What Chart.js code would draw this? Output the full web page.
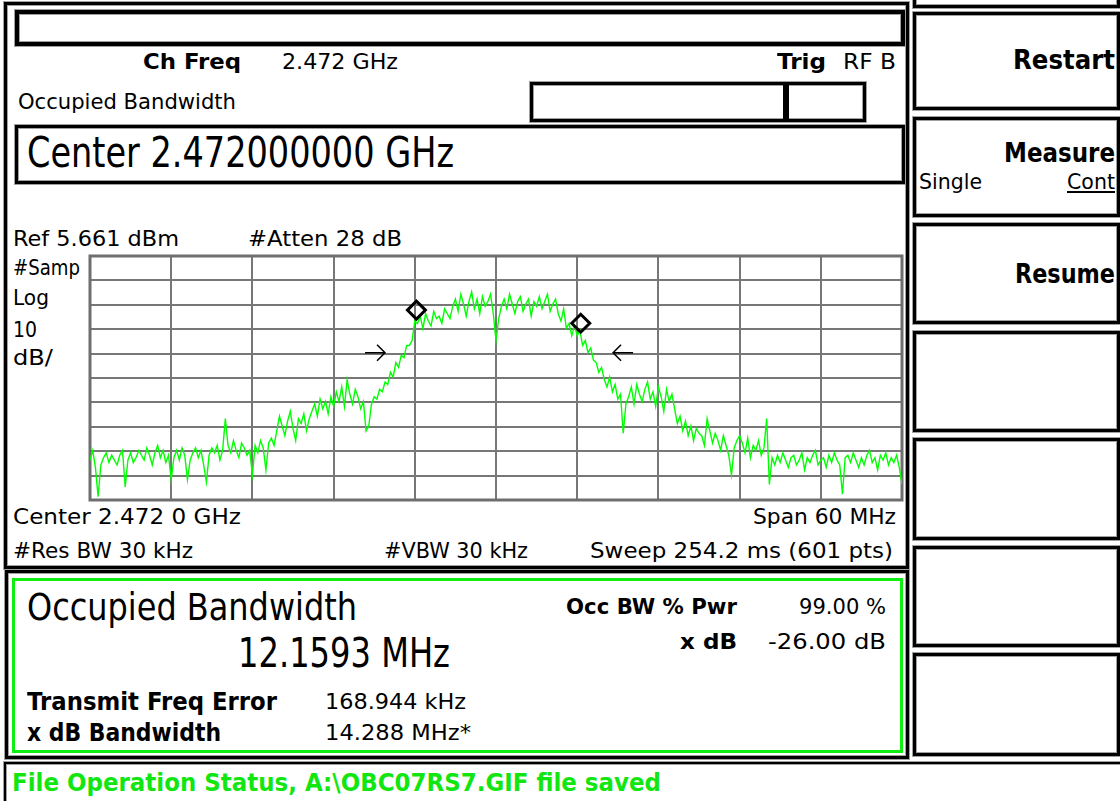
<!DOCTYPE html>
<html>
<head>
<meta charset="utf-8">
<script src="https://cdn.jsdelivr.net/npm/chart.js@4.4.1/dist/chart.umd.min.js"></script>
<style>
html, body { margin: 0; padding: 0; background: #fff; }
#screen { position: relative; width: 1120px; height: 801px; overflow: hidden; background: #fff; font-family: 'DejaVu Sans', sans-serif; color: #000; }
.box { position: absolute; box-sizing: border-box; border: 3px solid #000; box-shadow: 0 0 0 1px #a0a0a0, inset 0 0 0 1px #a0a0a0; }
.t { position: absolute; white-space: nowrap; line-height: 1; transform-origin: 0 0; }
.b { font-weight: bold; }
.g { color: #11e611; }
.u { text-decoration: underline; }
#plot { position: absolute; left: 84px; top: 250px; width: 824px; height: 256px; }
</style>
</head>
<body>
<div id="screen">
  <!-- frames -->
  <div class="box" style="left:4px;top:2px;width:905px;height:567px"></div>
  <div class="box" style="left:15px;top:10px;width:890px;height:36px;border-width:4px"></div>
  <div class="box" style="left:530px;top:82px;width:336px;height:40px"></div>
  <div style="position:absolute;left:783px;top:82px;width:6px;height:40px;background:#000"></div>
  <div class="box" style="left:15px;top:125px;width:890px;height:59px"></div>
  <div class="box" style="left:5px;top:570px;width:904px;height:189px"></div>
  <div class="box" style="left:12px;top:578px;width:891px;height:175px;border-color:#11ee11;box-shadow:none"></div>
  <div class="box" style="left:4px;top:762px;width:1130px;height:60px;border-width:2px"></div>

  <!-- softkeys -->
  <div class="box" style="left:913px;top:-12px;width:207px;height:20px"></div>
  <div class="box" style="left:913px;top:12px;width:207px;height:98px"></div>
  <div class="box" style="left:913px;top:117px;width:207px;height:100px"></div>
  <div class="box" style="left:913px;top:223px;width:207px;height:101px"></div>
  <div class="box" style="left:913px;top:331px;width:207px;height:101px"></div>
  <div class="box" style="left:913px;top:438px;width:207px;height:102px"></div>
  <div class="box" style="left:913px;top:546px;width:207px;height:101px"></div>
  <div class="box" style="left:913px;top:653px;width:207px;height:103px"></div>

  <!-- texts: x, cap-centre y, width, font size -->
  <div class="t b" data-p="143,62,98,22">Ch Freq</div>
  <div class="t" data-p="282,62,116,22">2.472 GHz</div>
  <div class="t b" data-p="777,62,49,22">Trig</div>
  <div class="t" data-p="843,62,53,22">RF B</div>
  <div class="t" data-p="18,102,218,22">Occupied Bandwidth</div>
  <div class="t" data-p="27,152,427,42">Center 2.472000000 GHz</div>
  <div class="t" data-p="13,239,166,22">Ref 5.661 dBm</div>
  <div class="t" data-p="248,239,154,22">#Atten 28 dB</div>
  <div class="t" data-p="13,268,67,22">#Samp</div>
  <div class="t" data-p="13,298,36,22">Log</div>
  <div class="t" data-p="13,330,24,22">10</div>
  <div class="t" data-p="13,358,40,22">dB/</div>
  <div class="t" data-p="13,517,228,22">Center 2.472 0 GHz</div>
  <div class="t" data-p="753,517,143,22">Span 60 MHz</div>
  <div class="t" data-p="13,551,180,22">#Res BW 30 kHz</div>
  <div class="t" data-p="384,551,144,22">#VBW 30 kHz</div>
  <div class="t" data-p="590,551,303,22">Sweep 254.2 ms (601 pts)</div>
  <div class="t" data-p="27,607,330,37">Occupied Bandwidth</div>
  <div class="t" data-p="238,652,212,40">12.1593 MHz</div>
  <div class="t b" data-p="566,607,171,22">Occ BW % Pwr</div>
  <div class="t" data-p="799,607,87,22">99.00 %</div>
  <div class="t b" data-p="680,642,57,22">x dB</div>
  <div class="t" data-p="768,642,118,22">-26.00 dB</div>
  <div class="t b" data-p="27,702,250,24">Transmit Freq Error</div>
  <div class="t" data-p="325,702,141,22">168.944 kHz</div>
  <div class="t b" data-p="27,733,194,24">x dB Bandwidth</div>
  <div class="t" data-p="325,733,146,22">14.288 MHz*</div>
  <div class="t b g" data-p="12,783,649,24">File Operation Status, A:\OBC07RS7.GIF file saved</div>
  <div class="t b" data-p="1013,59,102,26">Restart</div>
  <div class="t b" data-p="1004,152,111,26">Measure</div>
  <div class="t" data-p="919,182,63,22">Single</div>
  <div class="t u" data-p="1067,182,48,22">Cont</div>
  <div class="t b" data-p="1015,273,100,26">Resume</div>

  <div id="plot"><canvas id="obwChart"></canvas></div>
</div>

<script>
// sweep: 2442 - 2502 MHz, read every 0.2 MHz off the screen
const startMHz = 2442;
const stepMHz = 0.2;
const traceDbm = [
  -78, -74, -81, -93, -80, -77, -75, -79, -76, -78,
  -80, -76, -74, -89, -78, -75, -79, -77, -74, -76,
  -78, -73, -76, -80, -75, -72, -77, -74, -79, -76,
  -86, -77, -74, -78, -73, -76, -86, -78, -75, -73,
  -77, -74, -80, -87, -76, -73, -75, -72, -78, -74,
  -61, -72, -75, -70, -74, -77, -71, -73, -76, -74,
  -84, -72, -75, -70, -73, -82, -71, -69, -72,
  -66, -60, -64, -68, -62, -58, -65, -70, -61, -63, -59, -66, -61,
  -58, -55, -60, -53, -57, -54, -59, -52, -56,
  -50, -54, -48, -56, -45, -51, -55, -49, -52, -57, -54,
  -66, -64,
  -55, -52, -53, -49, -50, -46, -47,
  -42, -44, -38, -40, -35, -36, -31,
  -31, -29, -21,
  -22, -19, -24, -18, -21, -23, -17, -20, -19, -22, -16, -18, -20,
  -15, -12, -17, -10, -14, -19, -13, -9, -16, -12, -18, -11, -15, -13, -10,
  -18, -29,
  -20, -15, -12, -16, -10, -14, -18, -13, -11, -17, -14, -12, -19, -13, -15, -11, -16, -13, -10, -17, -14, -12,
  -18, -21, -16, -24, -22, -27, -23,
  -27, -25, -31, -29, -34, -32, -37,
  -38, -42, -40, -45, -48, -44, -50,
  -47, -53, -51, -67, -55,
  -52, -48, -55, -47, -51, -54, -49, -46, -53, -50, -56, -48, -52, -58, -49, -54, -51,
  -57, -63, -60, -66, -62, -68, -64, -70, -65, -67,
  -68, -72, -61, -66, -71, -67, -70, -74, -68, -72, -76, -84, -73, -70, -68,
  -71, -75, -69, -77, -72, -74, -70, -76, -73, -61, -88,
  -77, -80, -76, -79, -75, -78, -81, -77, -76, -80,
  -78, -75, -82, -77, -79, -76, -74, -80, -78, -77,
  -81, -76, -79, -75, -78, -80, -92, -77, -76, -79,
  -75, -78, -81, -77, -80, -76, -74, -79, -77, -82,
  -76, -78, -75, -80, -77, -79, -76, -81, -88
];
const xTicksMHz = [2442, 2448, 2454, 2460, 2466, 2472, 2478, 2484, 2490, 2496, 2502];
const yTicksDbm = [-94.339, -84.339, -74.339, -64.339, -54.339, -44.339, -34.339, -24.339, -14.339, -4.339, 5.661];
const obwMarkerMHz = [2466.12, 2478.26];
const obwMarkerDbm = [-16.5, -21.9];
const arrowMHz = [2463.8, 2480.65];
const arrowDir = [1, -1];
const arrowDbm = -34.0;

// place the screen texts and squeeze them to the instrument font widths
document.querySelectorAll('.t').forEach(el => {
  const [x, y, w, s] = el.dataset.p.split(',').map(Number);
  el.style.left = x + 'px';
  el.style.fontSize = s + 'px';
  el.style.top = (y - 0.48 * s) + 'px';
  const nat = el.getBoundingClientRect().width;
  el.style.transform = 'scaleX(' + (w / nat) + ')';
});

const trace = traceDbm.map((v, i) => ({ x: startMHz + i * stepMHz, y: v }));
const markers = obwMarkerMHz.map((f, i) => ({ x: f, y: obwMarkerDbm[i] }));

const screenPlugin = {
  id: 'screen',
  beforeDatasetsDraw(chart) {
    const { ctx, chartArea: a } = chart;
    ctx.save();
    ctx.strokeStyle = '#6e6e6e';
    ctx.lineWidth = 3;
    ctx.strokeRect(a.left, a.top, a.width, a.height);
    ctx.restore();
  },
  afterDatasetsDraw(chart) {
    const { ctx, scales: { x, y } } = chart;
    ctx.save();
    ctx.strokeStyle = '#000';
    ctx.lineWidth = 1.5;
    arrowMHz.forEach((f, i) => {
      const px = x.getPixelForValue(f);
      const py = y.getPixelForValue(arrowDbm);
      const d = arrowDir[i];
      ctx.beginPath();
      ctx.moveTo(px - d * 20, py);
      ctx.lineTo(px, py);
      ctx.moveTo(px - d * 8, py - 8);
      ctx.lineTo(px, py);
      ctx.lineTo(px - d * 8, py + 8);
      ctx.stroke();
    });
    ctx.restore();
  }
};

const ctx = document.getElementById('obwChart').getContext('2d');
const obwChart = new Chart(ctx, {
  type: 'line',
  data: {
    datasets: [{
      label: 'OBW markers',
      data: markers,
      showLine: false,
      pointStyle: 'rectRot',
      pointRadius: 9,
      pointBorderWidth: 3,
      pointBorderColor: '#000',
      pointBackgroundColor: 'rgba(0,0,0,0)',
      order: 0
    }, {
      label: 'Trace',
      data: trace,
      borderColor: '#00ff00',
      borderWidth: 1.4,
      pointRadius: 0,
      tension: 0,
      fill: false,
      order: 1
    }]
  },
  options: {
    responsive: true,
    maintainAspectRatio: false,
    animation: false,
    layout: { padding: 6, autoPadding: false },
    scales: {
      x: {
        type: 'linear',
        min: 2442,
        max: 2502,
        afterBuildTicks: s => { s.ticks = xTicksMHz.map(v => ({ value: v })); },
        ticks: { display: false },
        grid: { color: '#777', lineWidth: 2, drawTicks: false },
        border: { display: false }
      },
      y: {
        min: -94.339,
        max: 5.661,
        afterBuildTicks: s => { s.ticks = yTicksDbm.map(v => ({ value: v })); },
        ticks: { display: false },
        grid: { color: '#777', lineWidth: 2, drawTicks: false },
        border: { display: false }
      }
    },
    plugins: {
      legend: { display: false },
      tooltip: { enabled: false }
    }
  },
  plugins: [screenPlugin]
});
</script>
</body>
</html>
